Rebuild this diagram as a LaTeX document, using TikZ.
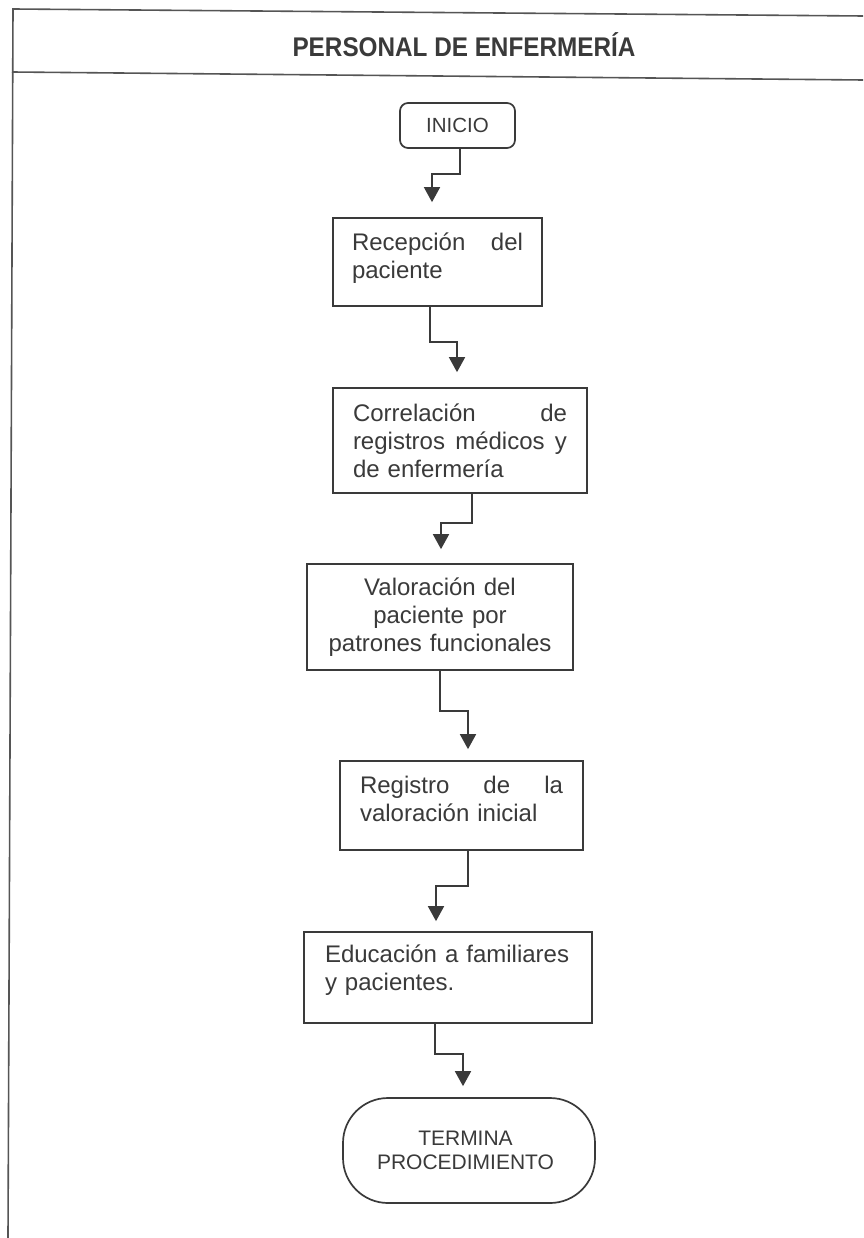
\documentclass[tikz,border=0pt]{standalone}
\usepackage{fontspec}
\setmainfont{Liberation Sans}
\newfontfamily\hdrfont[FakeStretch=0.9]{Liberation Sans}
\usetikzlibrary{arrows.meta}
\definecolor{ink}{HTML}{3A3A3A}
\definecolor{framecol}{HTML}{555555}
\begin{document}
\begin{tikzpicture}[x=1pt,y=-1pt,
  box/.style={draw=ink, line width=1.7pt, rectangle, text=ink, inner sep=0pt,
    font=\fontsize{24}{28}\selectfont},
  startbox/.style={box, rounded corners=8pt, minimum width=115pt, minimum height=45pt,
    font=\fontsize{20.5}{24}\selectfont},
  endbox/.style={box, rounded corners=45pt, minimum width=252pt, minimum height=105pt,
    text width=220pt, align=center, font=\fontsize{21}{24}\selectfont},
  conn/.style={draw=ink, line width=1.7pt, -{Triangle[width=16pt,length=15pt]}},
  framel/.style={draw=framecol, line width=1.6pt},
]
\useasboundingbox (0,0) rectangle (863,1238);
\fill[white] (0,0) rectangle (863,1238);

% frame
\draw[framel] (863,16) -- (13,9) -- (8,1238);
\draw[framel] (12,72) -- (863,80);

\node[font=\hdrfont\bfseries\fontsize{27}{30}\selectfont, text=ink] (hdr) at (464,45) {PERSONAL DE ENFERMERÍA};

\node[startbox] (ini) at (457.5,125.5) {INICIO};
\node[box, minimum width=209pt, minimum height=88pt, text width=171pt, align=left, text depth=41pt] (b1) at (437.5,262)
  {Recepción \hfill del\\paciente};
\node[box, minimum width=254pt, minimum height=105pt, text width=214pt, align=left] (b2) at (460,440.5)
  {Correlación \hfill de\\registros \hfill médicos \hfill y\\de enfermería};
\node[box, minimum width=266pt, minimum height=106pt, text width=250pt, align=center] (b3) at (440,617)
  {Valoración del\\paciente por\\patrones funcionales};
\node[box, minimum width=243pt, minimum height=89pt, text width=203pt, align=left, text depth=42pt] (b4) at (461.5,805.5)
  {Registro \hfill de \hfill la\\valoración inicial};
\node[box, minimum width=288pt, minimum height=91pt, text width=246pt, align=left, text depth=47pt] (b5) at (448,977.5)
  {Educación a familiares\\y pacientes.};
\node[endbox] (fin) at (469,1150.5) {\mbox{TERMINA\hspace{7pt}}\\\mbox{PROCEDIMIENTO\hspace{7pt}}};

\draw[conn, shorten >=15pt] ([xshift=2.5pt]ini.south) -- ++(0,25) -| ([xshift=-5.5pt]b1.north);
\draw[conn, shorten >=15pt] ([xshift=-7.5pt]b1.south) -- ++(0,35) -| ([xshift=-3pt]b2.north);
\draw[conn, shorten >=14pt] ([xshift=12pt]b2.south) -- ++(0,29) -| ([xshift=1pt]b3.north);
\draw[conn, shorten >=11pt] (b3.south) -- ++(0,40) -| ([xshift=6.5pt]b4.north);
\draw[conn, shorten >=10pt] ([xshift=6.5pt]b4.south) -- ++(0,35) -| ([xshift=-12pt]b5.north);
\draw[conn, shorten >=11pt] ([xshift=-13pt]b5.south) -- ++(0,30) -| ([xshift=-6pt]fin.north);
\end{tikzpicture}
\end{document}
